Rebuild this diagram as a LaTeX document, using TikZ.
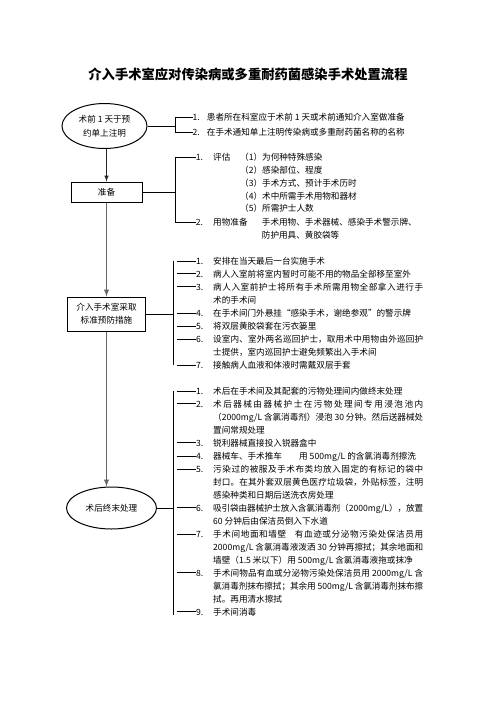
\documentclass[tikz,border=0pt]{standalone}
\usepackage{fontspec}
\setmainfont{Noto Sans CJK SC}
\usetikzlibrary{shapes.geometric}
\XeTeXlinebreaklocale "zh"
\XeTeXlinebreakskip = 0pt plus 1pt minus 0.2pt

\begin{document}
\begin{tikzpicture}[x=1pt,y=-1pt,
  every node/.style={font=\fontsize{8.6}{13}\selectfont},
  box/.style={rectangle,draw,line width=1pt,inner sep=0pt,align=center},
  oval/.style={ellipse,draw,line width=1pt,inner sep=0pt,align=center},
  num/.style={anchor=base west,inner sep=0pt},
  item/.style={anchor=base west,inner sep=0pt,text width=210pt,align=justify},
  flow/.style={-latex,line width=1.4pt,black!60},
  link/.style={line width=0.9pt}]
\useasboundingbox (0,0) rectangle (496,702);

\node[font=\bfseries\fontsize{13.3}{15}\selectfont] (title) at (248,74) {介入手术室应对传染病或多重耐药菌感染手术处置流程};

% left column
\node[oval,minimum width=85pt,minimum height=45pt,font=\fontsize{8.6}{14}\selectfont] (pre) at (104.5,126) {术前 1 天于预\\约单上注明};
\node[box,minimum width=71pt,minimum height=20pt] (prep) at (106.5,192) {准备};
\node[box,minimum width=78pt,minimum height=34pt] (std) at (106.5,314) {介入手术室采取\\标准预防措施};
\node[oval,minimum width=90pt,minimum height=42pt] (post) at (111.5,508) {术后终末处理};

\draw[flow,black!85,line width=1pt] (prep.north |- pre.south) -- (prep.north);
\draw[flow] (prep.south) -- (std.north);
\draw[flow] (std.south) -- (std.south |- post.north);

% bracket 1
\coordinate (v1) at (175,0);
\node[num] (n11) at (192.5,120.6) {1.};
\node[item] at (206.7,120.6) {患者所在科室应于术前 1 天或术前通知介入室做准备};
\node[num] (n12) at (192.5,135.6) {2.};
\node[item] at (206.7,135.6) {在手术通知单上注明传染病或多重耐药菌名称的名称};
\draw[link] (pre.east) -- (pre.east -| v1);
\draw[link] (n11.west) -- (v1 |- n11.west) -- (v1 |- n12.west) -- (n12.west);

% bracket 2
\coordinate (v2) at (175,0);
\begin{scope}[every node/.style={font=\fontsize{8.6}{12.8}\selectfont}]
\node[num] (n21) at (195.7,160.6) {1.};
\node[item] at (213,160.6) {评估};
\node[item] at (240,160.6) {（1）为何种特殊感染\\（2）感染部位、程度\\（3）手术方式、预计手术历时\\（4）术中所需手术用物和器材\\（5）所需护士人数};
\node[num] (n22) at (195.7,225.3) {2.};
\node[item] at (213,225.3) {用物准备};
\node[item] at (261.7,225.3) {手术用物、手术器械、感染手术警示牌、\\防护用具、黄胶袋等};
\end{scope}
\draw[link] (prep.east) -- (prep.east -| v2);
\draw[link] (n21.west) -- (v2 |- n21.west) -- (v2 |- n22.west) -- (n22.west);

% bracket 3
\coordinate (v3) at (173,0);
\coordinate (t3) at (176.5,0);
\node[num] (n31) at (196,264) {1.};
\node[item] at (213,264) {安排在当天最后一台实施手术};
\node[num] (n32) at (196,277) {2.};
\node[item] at (213,277) {病人入室前将室内暂时可能不用的物品全部移至室外};
\node[num] (n33) at (196,290) {3.};
\node[item] at (213,290) {病人入室前护士将所有手术所需用物全部拿入进行手\linebreak 术的手术间};
\node[num] (n34) at (196,316.1) {4.};
\node[item] at (213,316.1) {在手术间门外悬挂“感染手术，谢绝参观”的警示牌};
\node[num] (n35) at (196,329.2) {5.};
\node[item] at (213,329.2) {将双层黄胶袋套在污衣篓里};
\node[num] (n36) at (196,342.2) {6.};
\node[item] at (213,342.2) {设室内、室外两名巡回护士，取用术中用物由外巡回护\linebreak 士提供，室内巡回护士避免频繁出入手术间};
\node[num] (n37) at (196,368.3) {7.};
\node[item] at (213,368.3) {接触病人血液和体液时需戴双层手套};
\draw[link] (std.east) -- (std.east -| v3);
\draw[link] (v3 |- n31.west) -- (v3 |- n37.west);
\foreach \n in {n31,n32,n33,n34,n35,n36,n37}
  \draw[link] (t3 |- \n.west) -- (\n.west);

% bracket 4
\coordinate (v4) at (173,0);
\coordinate (t4) at (176.5,0);
\node[num] (n41) at (196,394) {1.};
\node[item] at (213,394) {术后在手术间及其配套的污物处理间内做终末处理};
\node[num] (n42) at (196,407) {2.};
\node[item] at (213,407) {术后器械由器械护士在污物处理间专用浸泡池内\linebreak （2000mg/L 含氯消毒剂）浸泡 30 分钟。然后送器械处\linebreak 置间常规处理};
\node[num] (n43) at (196,446) {3.};
\node[item] at (213,446) {锐利器械直接投入锐器盒中};
\node[num] (n44) at (196,459) {4.};
\node[item] at (213,459) {器械车、手术推车\hspace{2em}用 500mg/L 的含氯消毒剂擦洗};
\node[num] (n45) at (196,472) {5.};
\node[item] at (213,472) {污染过的被服及手术布类均放入固定的有标记的袋中\linebreak 封口。在其外套双层黄色医疗垃圾袋，外贴标签，注明\linebreak 感染种类和日期后送洗衣房处理};
\node[num] (n46) at (196,511) {6.};
\node[item] at (213,511) {吸引袋由器械护士放入含氯消毒剂（2000mg/L），放置\linebreak 60 分钟后由保洁员倒入下水道};
\node[num] (n47) at (196,537) {7.};
\node[item] at (213,537) {手术间地面和墙壁\hspace{1em}有血迹或分泌物污染处保洁员用\linebreak 2000mg/L 含氯消毒液泼洒 30 分钟再擦拭；其余地面和\linebreak 墙壁（1.5 米以下）用 500mg/L 含氯消毒液拖或抹净};
\node[num] (n48) at (196,576) {8.};
\node[item] at (213,576) {手术间物品有血或分泌物污染处保洁员用 2000mg/L 含\linebreak 氯消毒剂抹布擦拭；其余用 500mg/L 含氯消毒剂抹布擦\linebreak 拭。再用清水擦拭};
\node[num] (n49) at (196,615) {9.};
\node[item] at (213,615) {手术间消毒};
\draw[link] (post.east) -- (post.east -| v4);
\draw[link] (v4 |- n41.west) -- ([yshift=-3pt]v4 |- n49.west);
\foreach \n in {n41,n42,n43,n44,n45,n46,n47,n48,n49}
  \draw[link] (t4 |- \n.west) -- (\n.west);
\end{tikzpicture}
\end{document}
